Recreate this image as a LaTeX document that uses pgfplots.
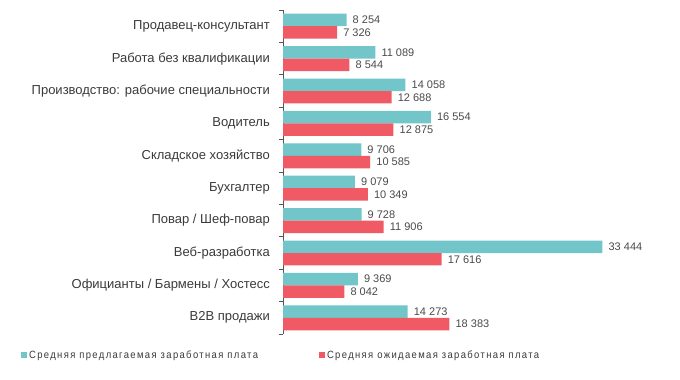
\documentclass[border=0pt]{standalone}
\usepackage{pgfplots}
\pgfplotsset{compat=1.18}
\usepackage{pgfplotstable}
\usepackage{fontspec}
\setmainfont{Liberation Sans}
\newfontfamily\narrowfont[FakeStretch=0.9, LetterSpace=13]{Liberation Sans}
\definecolor{cteal}{HTML}{72C5C8}
\definecolor{cred}{HTML}{F05A64}
\definecolor{lbl}{HTML}{3A3A3A}
\definecolor{vlbl}{HTML}{4A4A4A}
\definecolor{axc}{HTML}{555555}

\pgfplotstableread{
idx offer expect
0 8254 7326
1 11089 8544
2 14058 12688
3 16554 12875
4 9706 10585
5 9079 10349
6 9728 11906
7 33444 17616
8 9369 8042
9 14273 18383
}\data

\begin{document}
\begin{tikzpicture}
\path[use as bounding box] (0,0) rectangle (680bp,380bp);
\begin{axis}[
  at={(283bp,46bp)}, anchor=south west, scale only axis,
  width=386bp, height=324bp,
  xmin=2000, xmax=40000, ymin=-0.5, ymax=9.5, y dir=reverse,
  axis x line=none, axis y line*=left,
  axis line style={draw=axc, line width=0.8bp},
  xbar, bar width=0.385,
  ytick={0,...,9},
  yticklabels={Продавец-консультант, Работа без квалификации, Производство: рабочие специальности, Водитель, Складское хозяйство, Бухгалтер, Повар / Шеф-повар, Веб-разработка, Официанты / Бармены / Хостесс, B2B продажи},
  major tick length=0pt,
  minor ytick={-0.5,0.5,...,9.5},
  minor tick length=4bp,
  tick align=outside,
  minor tick style={draw=axc, line width=0.8bp},
  yticklabel style={font=\fontsize{13bp}{15bp}\selectfont, text=lbl, inner sep=0pt, xshift=-13bp},
  point meta=x,
  nodes near coords={\pgfmathprintnumber[fixed, precision=0, 1000 sep={\ }, assume math mode=true]{\pgfplotspointmeta}},
  every node near coord/.append style={font=\fontsize{11bp}{13bp}\selectfont, text=vlbl, anchor=west, inner sep=0pt, xshift=6bp},
  legend columns=2,
  legend cell align=left,
  legend image code/.code={\fill[#1] (0bp,-3bp) rectangle (6bp,3bp);},
  legend style={draw=none, fill=none, at={(-0.679,-0.065)}, anchor=west, inner sep=0pt,
    font=\narrowfont\fontsize{10.5bp}{12bp}\selectfont, text=lbl,
    /tikz/every even column/.append style={column sep=59bp}},
]
\addplot[fill=cteal, draw=none, bar shift=-0.1925] table[x=offer, y=idx] {\data};
\addplot[fill=cred, draw=none, bar shift=0.1925] table[x=expect, y=idx] {\data};
\legend{Средняя предлагаемая заработная плата, Средняя ожидаемая заработная плата}
\end{axis}
\end{tikzpicture}
\end{document}
